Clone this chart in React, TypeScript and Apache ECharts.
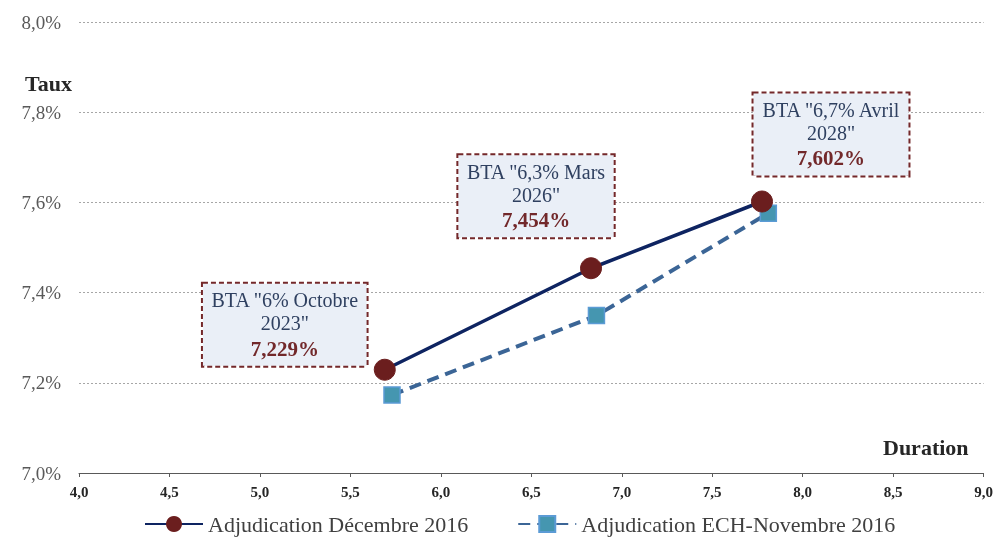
import React, { useEffect, useRef } from "react";
import * as echarts from "echarts";

const seriesNames = ["Adjudication Décembre 2016", "Adjudication ECH-Novembre 2016"];
const decDurations = [5.69, 6.83, 7.775];
const decRates = [7.229, 7.454, 7.602];
const novDurations = [5.73, 6.86, 7.81];
const novRates = [7.173, 7.349, 7.576];
const bondLine1 = ['BTA "6% Octobre', 'BTA "6,3% Mars', 'BTA "6,7% Avril'];
const bondLine2 = ['2023"', '2026"', '2028"'];
const labelOffsets = [[-100, -45], [-55, -72], [69, -67]];

const FONT = "'Liberation Serif', 'DejaVu Serif', serif";
const fmt = (v: number, d: number) => v.toFixed(d).replace(".", ",");

export default function App() {
  const ref = useRef<HTMLDivElement>(null);
  useEffect(() => {
    if (!ref.current) return;
    const chart = echarts.init(ref.current, null, { renderer: "svg" });
    const decData = decDurations.map((x, i) => ({
      value: [x, decRates[i]],
      label: {
        show: true,
        position: "inside",
        offset: labelOffsets[i],
        formatter: `{t|${bondLine1[i]}}\n{t|${bondLine2[i]}}\n{v|${fmt(decRates[i], 3)}%}`,
        backgroundColor: "#eaeff7",
        borderColor: "#74282a",
        borderWidth: 2,
        borderType: [5, 3],
        padding: [5, 8, 3, 8],
        align: "center",
        verticalAlign: "middle",
        rich: {
          t: { fontFamily: FONT, fontSize: 20, color: "#2f4060", lineHeight: 23, align: "center" },
          v: { fontFamily: FONT, fontSize: 21, fontWeight: "bold", color: "#72282a", lineHeight: 28, align: "center" },
        },
      },
    }));
    chart.setOption({
      animation: false,
      textStyle: { fontFamily: FONT },
      grid: { left: 79, right: 11, top: 22, bottom: 67, containLabel: false },
      xAxis: {
        type: "value",
        min: 4,
        max: 9,
        interval: 0.5,
        axisLine: { show: true, lineStyle: { color: "#595959", width: 1 } },
        axisTick: { show: true, length: 4, lineStyle: { color: "#595959" } },
        splitLine: { show: false },
        axisLabel: {
          formatter: (v: number) => fmt(v, 1),
          fontFamily: FONT,
          fontSize: 15,
          fontWeight: "bold",
          color: "#262626",
          margin: 11,
        },
      },
      yAxis: {
        type: "value",
        min: 7,
        max: 8,
        interval: 0.2,
        axisLine: { show: false },
        axisTick: { show: false },
        splitLine: { show: true, lineStyle: { color: "#a6a6a6", type: [2, 2], width: 1 } },
        axisLabel: {
          formatter: (v: number) => fmt(v, 1) + "%",
          fontFamily: FONT,
          fontSize: 19,
          color: "#595959",
          margin: 18,
        },
      },
      legend: {
        left: 139,
        bottom: 0,
        itemWidth: 58,
        itemHeight: 20,
        itemGap: 49,
        textStyle: { fontFamily: FONT, fontSize: 22, color: "#404040" },
        data: seriesNames,
      },
      graphic: [
        { type: "text", left: 25, top: 72, style: { text: "Taux", font: `bold 22px ${FONT}`, fill: "#262626" } },
        { type: "text", left: 883, top: 436, style: { text: "Duration", font: `bold 22px ${FONT}`, fill: "#262626" } },
      ],
      series: [
        {
          name: seriesNames[1],
          type: "line",
          data: novDurations.map((x, i) => [x, novRates[i]]),
          symbol: "rect",
          symbolSize: 16,
          itemStyle: { color: "#4596b0", borderColor: "#5b9bd5", borderWidth: 1.5 },
          lineStyle: { color: "#3b6596", width: 4, type: [12, 7] },
          z: 2,
        },
        {
          name: seriesNames[0],
          type: "line",
          data: decData,
          symbol: "circle",
          symbolSize: 21,
          itemStyle: { color: "#6b1e1e", borderColor: "#6b1e1e" },
          lineStyle: { color: "#0e2461", width: 3.5 },
          z: 3,
        },
      ],
    });
    return () => chart.dispose();
  }, []);
  return <div ref={ref} style={{ position: "fixed", left: 0, top: 0, width: 996, height: 540 }} />;
}
